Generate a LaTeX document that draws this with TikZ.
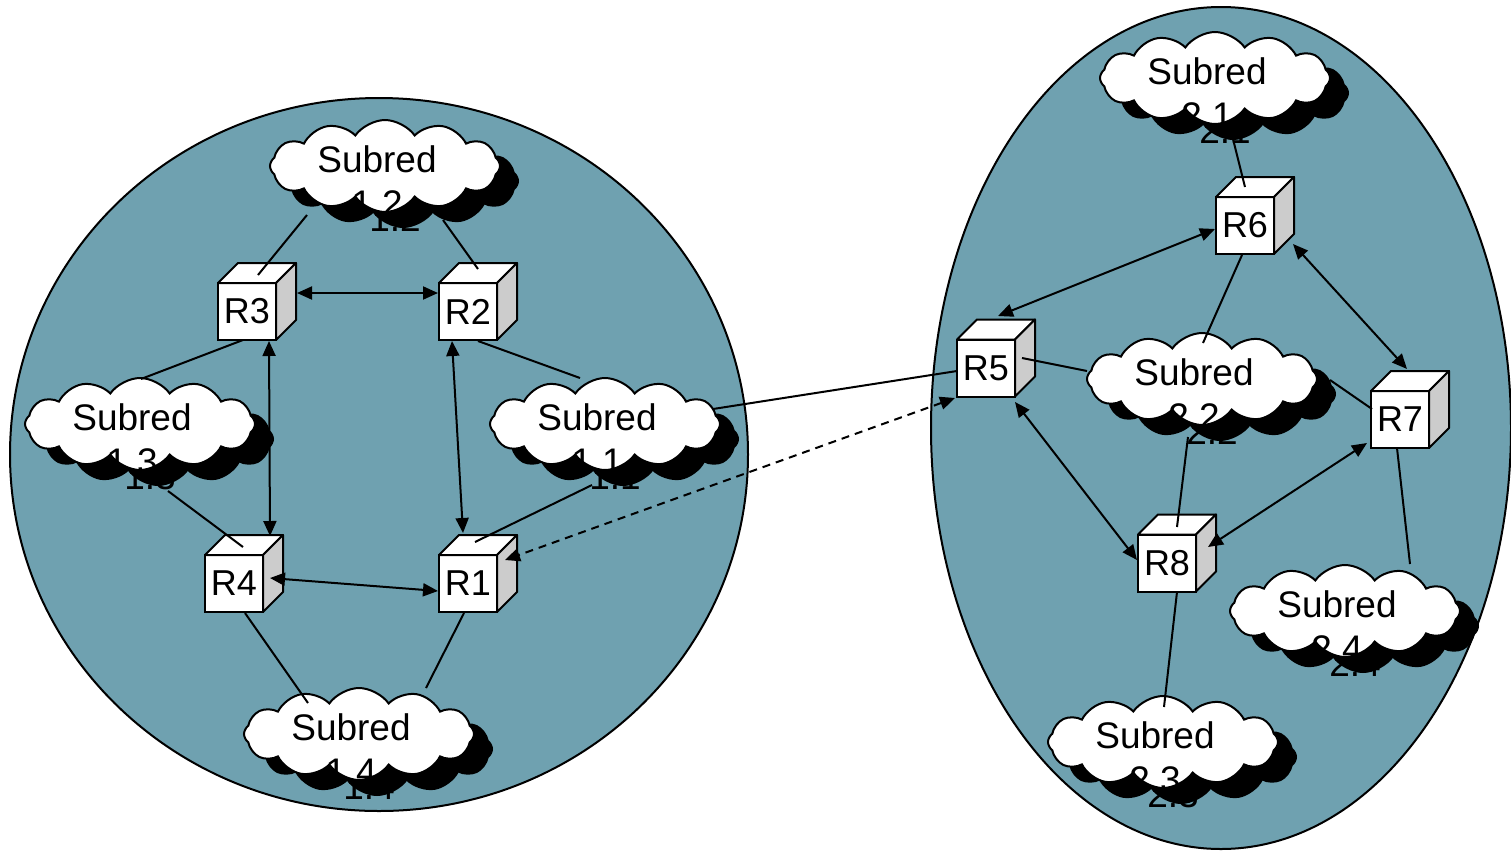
\documentclass[tikz,border=0pt]{standalone}
\usepackage{fontspec}
\setmainfont{Liberation Sans}
\usetikzlibrary{shapes.symbols,calc,arrows.meta}
\definecolor{netblue}{RGB}{111,161,176}
\definecolor{sidegray}{RGB}{204,204,204}
\begin{document}
\begin{tikzpicture}[x=0.5pt,y=-0.5pt,
  net/.style={draw=black,line width=1pt,fill=netblue},
  router/.style={draw,line width=1pt,fill=white,minimum width=29pt,minimum height=28.5pt,inner sep=0pt,outer sep=0pt,font=\fontsize{18}{20}\selectfont},
  face/.style={draw,line width=1pt,line join=round},
  cloudbox/.style={cloud,cloud puffs=12,cloud puff arc=110,aspect=2.6,minimum width=115pt,minimum height=46pt,inner sep=0pt,outer sep=0pt,draw,line width=1pt,fill=white},
  cloudshadow/.style={cloudbox,fill=black},
  lbl/.style={align=center,font=\fontsize{18.5}{22}\selectfont,inner sep=0pt},
  wire/.style={line width=1pt},
  tip/.tip={Triangle[length=7.5pt,width=6.5pt]},
  biarrow/.style={wire,tip-tip},
  dashedarrow/.style={wire,tip-tip,dash pattern=on 4pt off 3pt}
]
\useasboundingbox (0,0) rectangle (1511,852);
\fill[white] (0,0) rectangle (1511,852);
% networks
\draw[net] (379,454.5) ellipse [x radius=369, y radius=356.5];
\draw[net] (1221,428) ellipse [x radius=290, y radius=421];
% clouds
\foreach \n/\cx/\cy/\lab in {C11/605/424/1.1, C12/385/166/1.2, C13/140/424/1.3, C14/359/734/1.4,
                             C21/1215/78/2.1, C22/1202/379/2.2, C23/1163/742/2.3, C24/1345/611/2.4}{
  \node[cloudshadow] (\n-s) at ($(\cx,\cy)+(18,15)$) {};
  \node[lbl] (\n-st) at ($(\cx,\cy)+(10,30)$) {Subred\\\lab};
  \node[cloudbox] (\n) at (\cx,\cy) {};
  \node[lbl] (\n-t) at ($(\cx,\cy)+(-8,15)$) {Subred\\\lab};
}
% routers
\foreach \n/\x/\y in {R1/468/583.5, R2/468/311.5, R3/247/311.5, R4/234/583.5,
                      R5/986/368, R6/1245/225.5, R7/1400/419.5, R8/1167/563}{
  \node[router] (\n) at (\x,\y) {\n};
  \draw[face,fill=white] (\n.north west) -- ++(10pt,10pt) -- ++(29pt,0pt) -- (\n.north east) -- cycle;
  \draw[face,fill=sidegray] (\n.north east) -- ++(10pt,10pt) -- ++(0pt,-28.5pt) -- (\n.south east) -- cycle;
}
% left network connectors
\draw[wire] ($(C12)+(-78,49)$) -- ($(R3)+(11,-36.5)$);
\draw[wire] ($(C12)+(58,54)$) -- ($(R2)+(10,-42.5)$);
\draw[biarrow] ($(R3)+(50,-18.5)$) -- ($(R2)+(-30,-18.5)$);
\draw[biarrow] ($(R3)+(22,29.5)$) -- ($(R4)+(36,-47.5)$);
\draw[biarrow] ($(R2)+(-16,29.5)$) -- ($(R1)+(-5,-50.5)$);
\draw[biarrow] ($(R4)+(36,-5.5)$) -- ($(R1)+(-30,7.5)$);
\draw[wire] ($(R3)+(-4,28.5)$) -- ($(C13)+(1,-45)$);
\draw[wire] ($(R2)+(10,29.5)$) -- ($(C11)+(-25,-46)$);
\draw[wire] ($(C13)+(28,67)$) -- ($(R4)+(9,-36.5)$);
\draw[wire] ($(C11)+(-13,61)$) -- ($(R1)+(7,-41.5)$);
\draw[wire] ($(R4)+(11,29.5)$) -- ($(C14)+(-51,-31)$);
\draw[wire] ($(R1)+(-4,29.5)$) -- ($(C14)+(67,-46)$);
% between networks
\draw[wire] ($(C11)+(108,-15)$) -- ($(R5)+(-29,3)$);
\draw[dashedarrow] ($(R5)+(-31,30)$) -- ($(R1)+(37,-23.5)$);
% right network connectors
\draw[biarrow] ($(R5)+(12,-52)$) -- ($(R6)+(-30,3.5)$);
\draw[wire] ($(C21)+(15,49)$) -- ($(R6)+(0,-38.5)$);
\draw[wire] ($(R6)+(-3,29.5)$) -- ($(C22)+(1,-36)$);
\draw[biarrow] ($(R6)+(48,18.5)$) -- ($(R7)+(7,-50.5)$);
\draw[wire] ($(R5)+(36,-10)$) -- ($(C22)+(-115,-8)$);
\draw[wire] ($(C22)+(128,1)$) -- ($(R7)+(-28,-10.5)$);
\draw[biarrow] ($(R5)+(29,34)$) -- ($(R8)+(-30,-3)$);
\draw[wire] ($(C22)+(-14,58)$) -- ($(R8)+(10,-36)$);
\draw[biarrow] ($(R7)+(-33,23.5)$) -- ($(R8)+(41,-16)$);
\draw[wire] ($(R7)+(-3,28.5)$) -- ($(C24)+(65,-47)$);
\draw[wire] ($(R8)+(10,29)$) -- ($(C23)+(1,-35)$);
\end{tikzpicture}
\end{document}
